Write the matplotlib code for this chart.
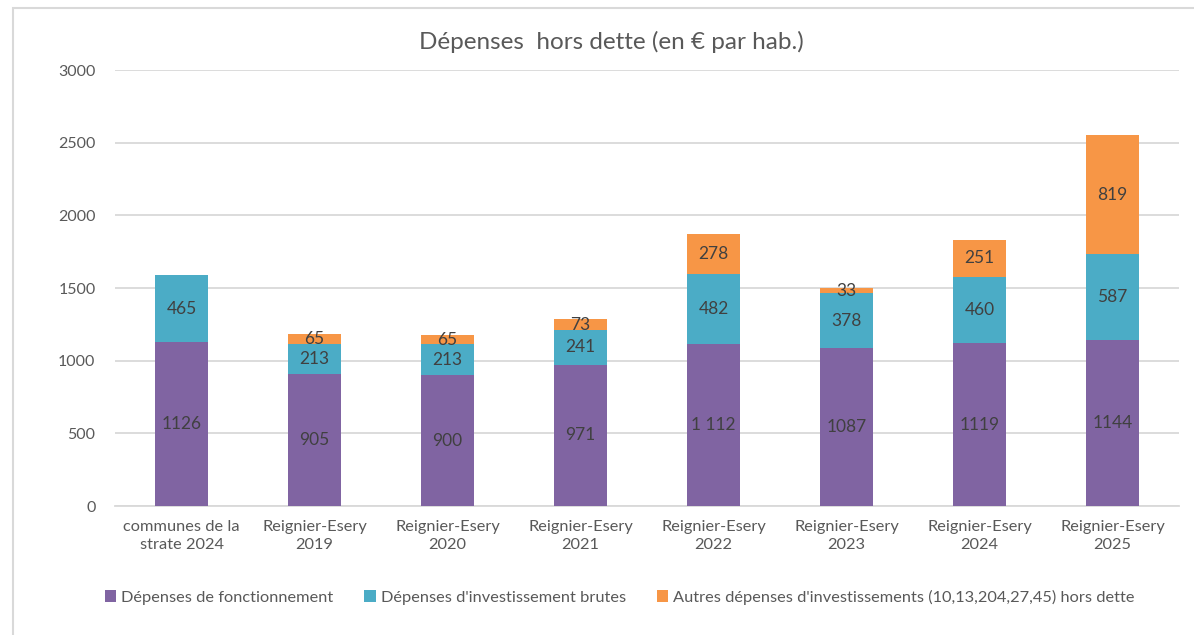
import matplotlib
matplotlib.use("Agg")
import matplotlib.pyplot as plt
from matplotlib.patches import Rectangle
import numpy as np

categories = ["communes de la\nstrate 2024", "Reignier-Esery\n2019", "Reignier-Esery\n2020",
              "Reignier-Esery\n2021", "Reignier-Esery\n2022", "Reignier-Esery\n2023",
              "Reignier-Esery\n2024", "Reignier-Esery\n2025"]
fonctionnement = [1126, 905, 900, 971, 1112, 1087, 1119, 1144]
fonct_labels = ["1126", "905", "900", "971", "1 112", "1087", "1119", "1144"]
investissement = [465, 213, 213, 241, 482, 378, 460, 587]
autres = [0, 65, 65, 73, 278, 33, 251, 819]
series_names = ["Dépenses de fonctionnement", "Dépenses d'investissement brutes",
                "Autres dépenses d'investissements (10,13,204,27,45) hors dette"]
colors = ["#8064A2", "#4BACC6", "#F79646"]

plt.rcParams['font.family'] = ['Lato', 'DejaVu Sans']

W, H = 1194, 635
fig = plt.figure(figsize=(W / 100, H / 100), dpi=100)
fig.patch.set_facecolor("white")

# chart frame (cut at right/bottom edge)
fig.add_artist(Rectangle((13 / W, -0.1), 1.2, 1.1 - 8 / H, transform=fig.transFigure,
                         fill=False, edgecolor="#D9D9D9", linewidth=1.5))

ax = fig.add_axes([115 / W, 1 - 506 / H, (1179 - 115) / W, (506 - 70) / H])
x = np.arange(len(categories))
bw = 0.4
f = np.array(fonctionnement)
i_ = np.array(investissement)
a = np.array(autres)
ax.bar(x, f, bw, color=colors[0], label=series_names[0], zorder=3)
ax.bar(x, i_, bw, bottom=f, color=colors[1], label=series_names[1], zorder=3)
ax.bar(x, a, bw, bottom=f + i_, color=colors[2], label=series_names[2], zorder=3)

lab_color = "#404040"
for k in range(len(categories)):
    ax.text(x[k], f[k] / 2, fonct_labels[k], ha="center", va="center", fontsize=12.5, color=lab_color, zorder=4)
    ax.text(x[k], f[k] + i_[k] / 2, str(i_[k]), ha="center", va="center", fontsize=12.5, color=lab_color, zorder=4)
    if a[k] > 0:
        ax.text(x[k], f[k] + i_[k] + a[k] / 2, str(a[k]), ha="center", va="center", fontsize=12.5, color=lab_color, zorder=4)

ax.set_xlim(-0.5, len(categories) - 0.5)
ax.set_ylim(0, 3000)
ax.set_yticks(np.arange(0, 3001, 500))
ax.yaxis.grid(True, color="#D9D9D9", linewidth=1.3, zorder=0)
for s in ["top", "right", "left"]:
    ax.spines[s].set_visible(False)
ax.spines["bottom"].set_color("#D9D9D9")
ax.spines["bottom"].set_linewidth(1.3)
ax.tick_params(axis="both", length=0, colors="#595959", labelsize=11.5)
ax.tick_params(axis="y", pad=14)
ax.tick_params(axis="x", pad=10)
ax.set_xticks(x)
ax.set_xticklabels(categories, fontsize=11.8, color="#595959", linespacing=1.35)

fig.text(0.512, 1 - 42 / H, "Dépenses  hors dette (en € par hab.)", ha="center", va="center",
         fontsize=17.5, color="#595959")

handles, labels = ax.get_legend_handles_labels()
leg = fig.legend(handles, labels, loc="center", bbox_to_anchor=(0.519, 1 - 597 / H), ncol=3,
                 frameon=False, fontsize=11.8, handlelength=0.7, handleheight=0.7,
                 handletextpad=0.3, columnspacing=1.9, labelcolor="#595959")

fig.savefig("out.png", dpi=100)
